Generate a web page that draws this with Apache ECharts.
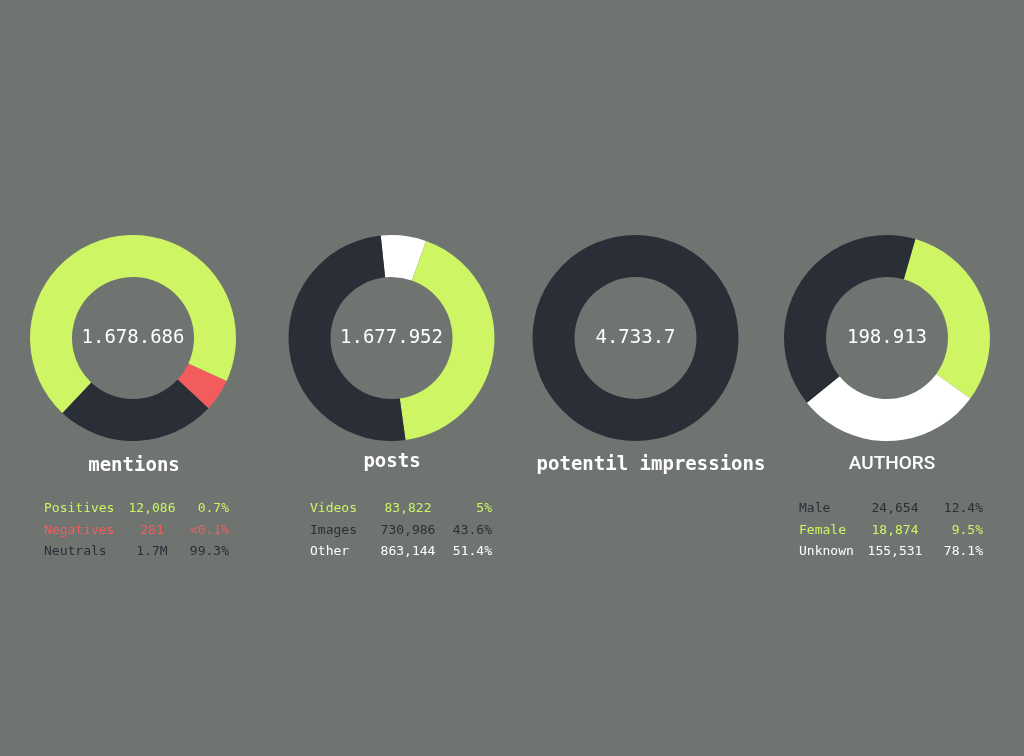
<!DOCTYPE html>
<html>
<head>
<meta charset="utf-8">
<script src="https://cdn.jsdelivr.net/npm/echarts@6/dist/echarts.min.js"></script>
<style>
  html, body { margin: 0; padding: 0; background: #6f7471; }
  #chart { width: 1024px; height: 756px; }
</style>
</head>
<body>
<div id="chart"></div>
<script>
// 颜色
const GREEN = '#cdf564';
const RED = '#f25c5c';
const DARK = '#2a2e36';
const WHITE = '#ffffff';

// 环形图标题与中心数值
const ringTitles = ['mentions', 'posts', 'potentil impressions', 'AUTHORS'];
const ringTotals = ['1.678.686', '1.677.952', '4.733.7', '198.913'];

// 每个环的弧段占比（从图上读取，%）
const mentionsShares = [5.1, 25.1, 69.8];   // 红, 深, 绿
const postsShares = [7.1, 42.4, 50.5];      // 白, 绿, 深
const impressionsShares = [100];            // 深
const authorsShares = [30.6, 29.2, 40.3];   // 绿, 白, 深

// 表格
const mentionsRows = ['Positives', 'Negatives', 'Neutrals'];
const mentionsCounts = ['12,086', '281', '1.7M'];
const mentionsPct = ['0.7%', '<0.1%', '99.3%'];

const postsRows = ['Videos', 'Images', 'Other'];
const postsCounts = ['83,822', '730,986', '863,144'];
const postsPct = ['5%', '43.6%', '51.4%'];

const authorsRows = ['Male', 'Female', 'Unknown'];
const authorsCounts = ['24,654', '18,874', '155,531'];
const authorsPct = ['12.4%', '9.5%', '78.1%'];

const MONO = '"DejaVu Sans Mono", "Liberation Mono", monospace';

function ring(cx, shares, colors, startAngle) {
  return {
    type: 'pie',
    center: [cx, 338],
    radius: [61, 103],
    startAngle: startAngle,
    silent: true,
    label: { show: false },
    labelLine: { show: false },
    itemStyle: { borderWidth: 0 },
    emphasis: { disabled: true },
    data: shares.map((v, i) => ({ value: v, itemStyle: { color: colors[i] } }))
  };
}

// 表格文字
function table(rows, counts, pct, colors, x1, x2, x3) {
  const out = [];
  const ys = [509, 531, 552];
  const font = '13px ' + MONO;
  rows.forEach((r, i) => {
    out.push({ type: 'text', x: x1, y: ys[i],
      style: { text: r, fill: colors[i], font: font, textAlign: 'left', textVerticalAlign: 'middle' } });
    out.push({ type: 'text', x: x2, y: ys[i],
      style: { text: counts[i], fill: colors[i], font: font, textAlign: 'center', textVerticalAlign: 'middle' } });
    out.push({ type: 'text', x: x3, y: ys[i],
      style: { text: pct[i], fill: colors[i], font: font, textAlign: 'right', textVerticalAlign: 'middle' } });
  });
  return out;
}

const chart = echarts.init(document.getElementById('chart'));

const centersX = [133, 391.5, 635.5, 887];
const titleX = [134, 392, 651, 892];
const titleY = [466, 462, 465, 464];

const graphics = [];
ringTotals.forEach((t, i) => {
  graphics.push({ type: 'text', x: centersX[i], y: 338,
    style: { text: t, fill: WHITE, font: '19px ' + MONO, textAlign: 'center', textVerticalAlign: 'middle' } });
});
ringTitles.forEach((t, i) => {
  const font = i === 3 ? '500 19px Roboto, "Noto Sans", sans-serif' : 'bold 19px ' + MONO;
  graphics.push({ type: 'text', x: titleX[i], y: titleY[i],
    style: { text: t, fill: WHITE, font: font, textAlign: 'center', textVerticalAlign: 'middle' } });
});
graphics.push(...table(mentionsRows, mentionsCounts, mentionsPct, [GREEN, RED, DARK], 44, 152, 229));
graphics.push(...table(postsRows, postsCounts, postsPct, [GREEN, DARK, WHITE], 310, 408, 492));
graphics.push(...table(authorsRows, authorsCounts, authorsPct, [DARK, GREEN, WHITE], 799, 895, 983));

chart.setOption({
  backgroundColor: '#6f7471',
  animation: false,
  series: [
    ring(centersX[0], mentionsShares, [RED, DARK, GREEN], -24.6),
    ring(centersX[1], postsShares, [WHITE, GREEN, DARK], 96),
    ring(centersX[2], impressionsShares, [DARK], 90),
    ring(centersX[3], authorsShares, [GREEN, WHITE, DARK], 74)
  ],
  graphic: graphics
});

window.addEventListener('resize', () => chart.resize());
</script>
</body>
</html>
